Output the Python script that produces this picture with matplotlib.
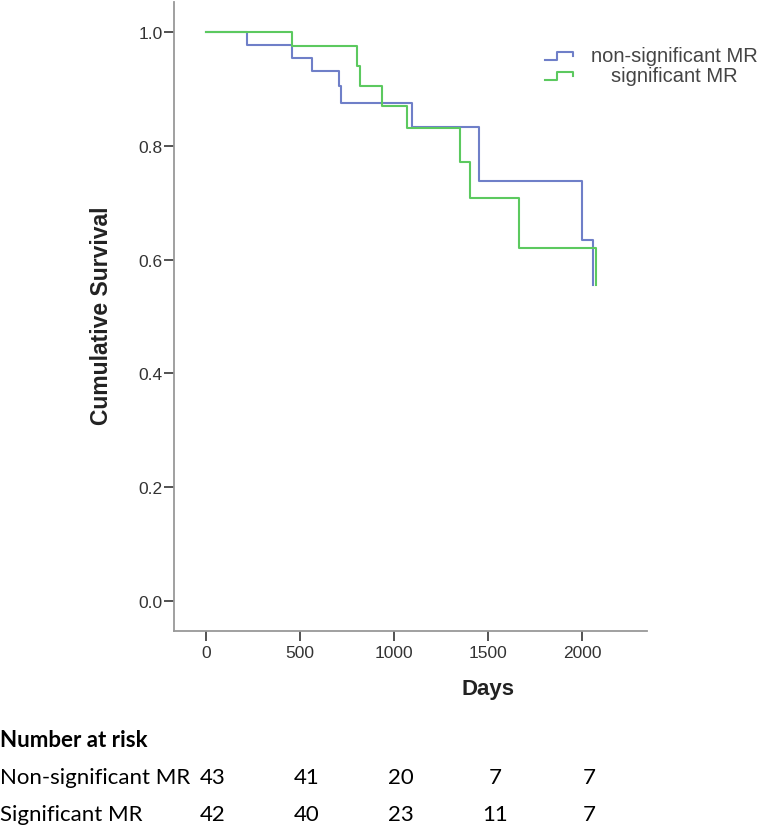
import numpy as np
import matplotlib
matplotlib.use("Agg")
import matplotlib.pyplot as plt
import matplotlib.transforms as mtransforms

# Kaplan-Meier steps (days, cumulative survival)
nonsig_times = [0, 218, 456, 564, 710, 720, 1094, 1452, 1998, 2059]
nonsig_surv = [1.0, 0.977, 0.955, 0.931, 0.905, 0.875, 0.833, 0.739, 0.634, 0.555]

sig_times = [0, 456, 801, 822, 937, 1069, 1351, 1406, 1665, 2074]
sig_surv = [1.0, 0.976, 0.940, 0.905, 0.870, 0.831, 0.771, 0.708, 0.620, 0.556]

group_labels = ["non-significant MR", "significant MR"]
group_colors = ["#6f7fc8", "#5cc95f"]

# number at risk table
risk_times = [0, 500, 1000, 1500, 2000]
risk_rows = ["Non-significant MR", "Significant MR"]
risk_nonsig = [43, 41, 20, 7, 7]
risk_sig = [42, 40, 23, 11, 7]

x_ticks = [0, 500, 1000, 1500, 2000]
y_ticks = [0.0, 0.2, 0.4, 0.6, 0.8, 1.0]

fig = plt.figure(figsize=(7.74, 8.28), dpi=100)
ax = fig.add_axes([0.2248, 0.2367, 0.6111, 0.7597])

ax.step(nonsig_times, nonsig_surv, where="post", color=group_colors[0], lw=1.5)
ax.step(sig_times, sig_surv, where="post", color=group_colors[1], lw=1.5)

ax.set_xlim(-170, 2346)
ax.set_ylim(-0.053, 1.053)
ax.set_xticks(x_ticks)
ax.set_yticks(y_ticks)
ax.set_yticklabels([f"{v:.1f}" for v in y_ticks])

for side in ["top", "right"]:
    ax.spines[side].set_visible(False)
for side in ["left", "bottom"]:
    ax.spines[side].set_color("#999999")
    ax.spines[side].set_linewidth(1.3)

ax.tick_params(axis="both", direction="out", length=7.5, width=1.3,
               color="#444444", labelcolor="#333333")
ax.tick_params(axis="y", pad=0.5)
ax.tick_params(axis="x", pad=2.5)
for lab in ax.get_xticklabels() + ax.get_yticklabels():
    lab.set_fontfamily("Liberation Sans")
    lab.set_fontsize(12.5)

ax.set_ylabel("Cumulative Survival", family="Liberation Sans", fontsize=16.5,
              fontweight="bold", color="#222222")
ax.yaxis.set_label_coords(-0.129, 0.502)
ax.set_xlabel("Days", family="Liberation Sans", fontsize=16,
              fontweight="bold", color="#222222")
ax.xaxis.label.set_va("center")
ax.xaxis.label.set_ha("center")
ax.xaxis.set_label_coords(0.664, -0.092)

# legend: small step glyphs with centred labels, as SPSS draws it
glyph_x = np.array([0.784, 0.810, 0.810, 0.844, 0.844])
glyph_dy = np.array([-0.0075, -0.0075, 0.0055, 0.0055, -0.001])
for i, (lab, col) in enumerate(zip(group_labels, group_colors)):
    yc = 0.9157 - i * 0.0318
    ax.plot(glyph_x, yc + glyph_dy, color=col, lw=1.5,
            transform=ax.transAxes, clip_on=False)
    ax.text(1.057, yc, lab, transform=ax.transAxes, ha="center", va="center",
            family="Liberation Sans", fontsize=14.5, color="#444444",
            clip_on=False)

# number at risk table
table_font = "Lato"
fig.text(0.0, 1 - 741 / 828, "Number at risk", family=table_font,
         fontsize=16, fontweight="bold", va="center", ha="left")
trans = mtransforms.blended_transform_factory(ax.transData, fig.transFigure)
trans = trans + mtransforms.ScaledTranslation(7 / 100, 0, fig.dpi_scale_trans)
for row_name, counts, yp in zip(risk_rows, [risk_nonsig, risk_sig], [778, 815]):
    yf = 1 - yp / 828
    fig.text(0.0, yf, row_name, family=table_font, fontsize=16,
             va="center", ha="left")
    for t, n in zip(risk_times, counts):
        fig.text(t, yf, str(n), transform=trans, family=table_font,
                 fontsize=16, va="center", ha="center")

fig.savefig("out.png", dpi=100)
